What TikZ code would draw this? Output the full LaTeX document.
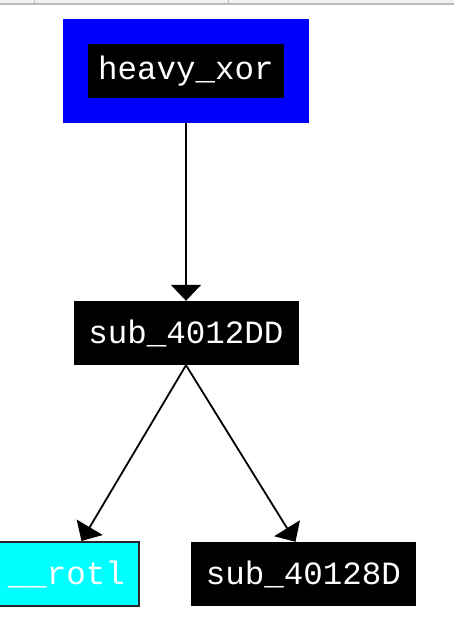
\documentclass[tikz,border=0pt]{standalone}
\usepackage{fontspec}
\setmonofont{Liberation Mono}
\usetikzlibrary{arrows.meta}
\definecolor{leafcyan}{RGB}{0,255,255}
\definecolor{rootblue}{RGB}{0,0,255}

\begin{document}
\begin{tikzpicture}[x=1pt,y=-1pt,
  func/.style={fill=black, text=white, inner sep=0pt, minimum width=225pt, minimum height=64pt, font=\ttfamily\fontsize{32.5}{32.5}\selectfont},
  call/.style={line width=1.8pt, -{Triangle[width=30pt,length=16pt]}}]
\useasboundingbox (0,0) rectangle (454,628);
\fill[gray!12] (0,0) rectangle (454,4);
\fill[gray!55] (0,3.5) rectangle (454,5.5);
\draw[gray!55, line width=1pt] (34,0) -- (34,3.5) (228,0) -- (228,3.5);
\node[func, draw=rootblue, line width=25pt, minimum width=221pt, minimum height=79pt] (xor) at (186,71) {heavy\_xor};
\node[func] (dd) at (186,333) {sub\_4012DD};
\node[func, fill=leafcyan, draw=black!85, line width=2pt, minimum width=145pt] (rotl) at (66.5,574) {\_\_rotl};
\node[func] (e8d) at (303.5,574) {sub\_40128D};
\draw[call] (xor.south) -- (dd.north);
\draw[call] (dd.south) -- ([xshift=15pt]rotl.north);
\draw[call] (dd.south) -- ([xshift=-8pt]e8d.north);
\end{tikzpicture}
\end{document}
